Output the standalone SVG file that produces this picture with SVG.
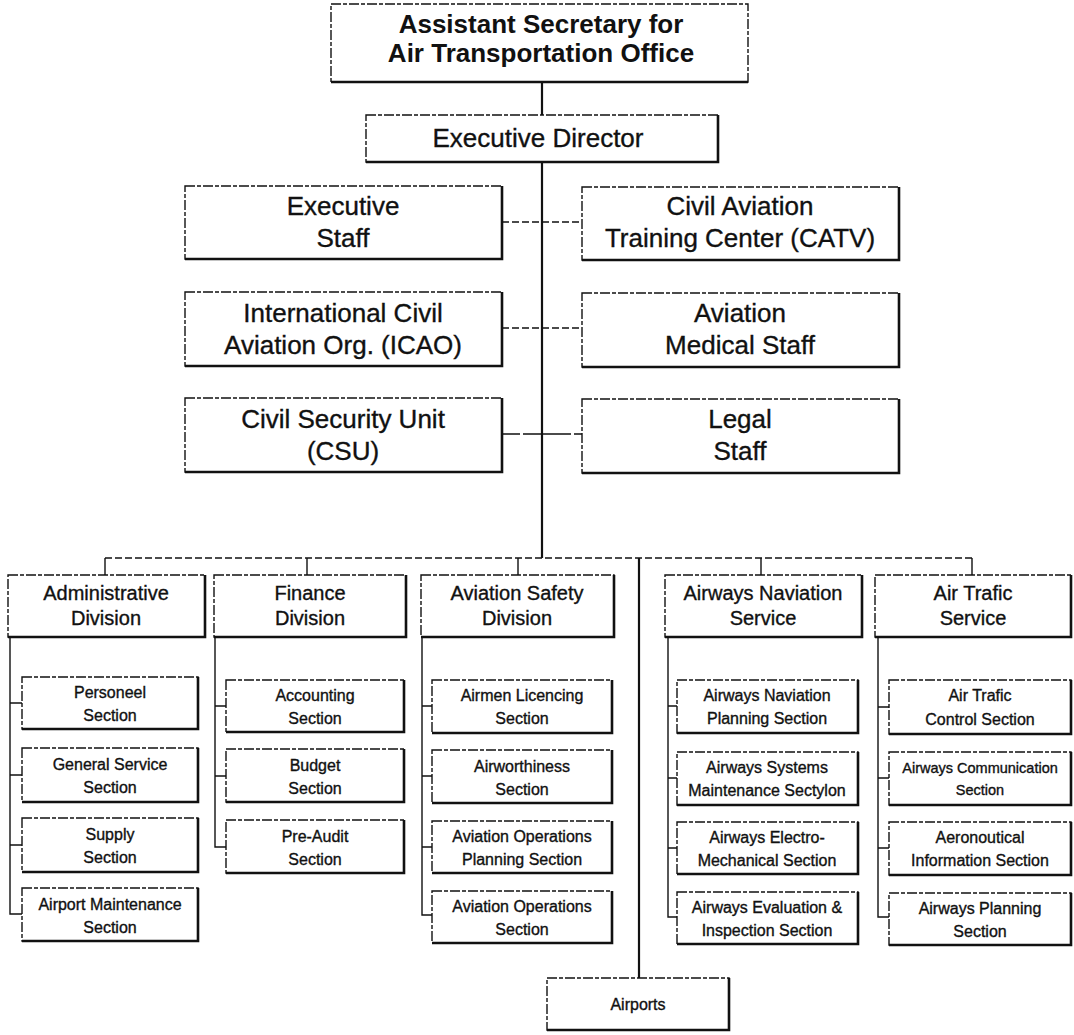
<svg xmlns="http://www.w3.org/2000/svg" width="1074" height="1035" viewBox="0 0 1074 1035">
  <style>
    .frame { fill: #fff; stroke: #111; stroke-width: 1.4; stroke-dasharray: 10 2 4 2; }
    .shade { fill: none; stroke: #111; stroke-width: 2.6; }
    .t { font-family: "Liberation Sans", Arial, sans-serif; fill: #111; stroke: #111; stroke-width: 0.35; text-anchor: middle; }
    .top { font-size: 26px; font-weight: bold; stroke-width: 0; }
    .dir { font-size: 26px; }
    .staff { font-size: 26px; }
    .div { font-size: 20px; }
    .sec { font-size: 16px; }
    .main { fill: none; stroke: #111; stroke-width: 2.2; }
    .link { fill: none; stroke: #111; stroke-width: 1.4; }
    .dash { fill: none; stroke: #111; stroke-width: 1.4; stroke-dasharray: 7 3; }
  </style>

  <!-- connectors -->
  <g id="connectors">
    <path class="main" d="M542 82 V115 M542 162 V558"/>
    <path class="dash" d="M502 222 H582 M502 328 H582"/>
    <path class="link" d="M502 434 H582" stroke-dasharray="18 3 30 0"/>
    <path class="dash" d="M105 558 H972"/>
    <path class="link" d="M105 558 V575 M307 558 V575 M518 558 V575 M761 558 V575 M972 558 V575"/>
    <path class="main" d="M639 558 V978"/>
    <!-- Administrative spine -->
    <path class="link" d="M10 637 V914 H22 M10 703 H22 M10 775 H22 M10 845 H22"/>
    <!-- Finance spine -->
    <path class="link" d="M215 637 V847 H226 M215 706 H226 M215 776 H226"/>
    <!-- Aviation Safety spine -->
    <path class="link" d="M422 637 V915 H432 M422 706 H432 M422 776 H432 M422 847 H432"/>
    <!-- Airways Naviation spine -->
    <path class="link" d="M668 637 V917 H677 M668 706 H677 M668 778 H677 M668 848 H677"/>
    <!-- Air Trafic spine -->
    <path class="link" d="M878 637 V917 H889 M878 707 H889 M878 778 H889 M878 848 H889"/>
  </g>

  <!-- top -->
  <g id="asst-secretary">
    <rect class="frame" x="331" y="4" width="417" height="78"/>
    <path class="shade" d="M331 82 H748"/>
    <text class="t top" x="541" y="33">Assistant Secretary for</text>
    <text class="t top" x="541" y="62">Air Transportation Office</text>
  </g>

  <g id="executive-director">
    <rect class="frame" x="366" y="115" width="352" height="47"/>
    <path class="shade" d="M366 162 H718 V115"/>
    <text class="t dir" x="538" y="147">Executive Director</text>
  </g>

  <!-- staff units -->
  <g id="executive-staff">
    <rect class="frame" x="185" y="186" width="317" height="73"/>
    <path class="shade" d="M185 259 H502 V186"/>
    <text class="t staff" x="343" y="215">Executive</text>
    <text class="t staff" x="343" y="247">Staff</text>
  </g>
  <g id="catv">
    <rect class="frame" x="582" y="187" width="317" height="73"/>
    <path class="shade" d="M582 260 H899 V187"/>
    <text class="t staff" x="740" y="215">Civil Aviation</text>
    <text class="t staff" x="740" y="247">Training Center (CATV)</text>
  </g>
  <g id="icao">
    <rect class="frame" x="185" y="292" width="317" height="74"/>
    <path class="shade" d="M185 366 H502 V292"/>
    <text class="t staff" x="343" y="322">International Civil</text>
    <text class="t staff" x="343" y="354">Aviation Org. (ICAO)</text>
  </g>
  <g id="medical-staff">
    <rect class="frame" x="582" y="293" width="317" height="74"/>
    <path class="shade" d="M582 367 H899 V293"/>
    <text class="t staff" x="740" y="322">Aviation</text>
    <text class="t staff" x="740" y="354">Medical Staff</text>
  </g>
  <g id="csu">
    <rect class="frame" x="185" y="398" width="317" height="74"/>
    <path class="shade" d="M185 472 H502 V398"/>
    <text class="t staff" x="343" y="428">Civil Security Unit</text>
    <text class="t staff" x="343" y="460">(CSU)</text>
  </g>
  <g id="legal-staff">
    <rect class="frame" x="582" y="399" width="317" height="74"/>
    <path class="shade" d="M582 473 H899 V399"/>
    <text class="t staff" x="740" y="428">Legal</text>
    <text class="t staff" x="740" y="460">Staff</text>
  </g>

  <!-- divisions -->
  <g id="admin-division">
    <rect class="frame" x="8" y="575" width="197" height="62"/>
    <path class="shade" d="M8 637 H205 V575"/>
    <text class="t div" x="106" y="600">Administrative</text>
    <text class="t div" x="106" y="625">Division</text>
  </g>
  <g id="finance-division">
    <rect class="frame" x="214" y="575" width="192" height="62"/>
    <path class="shade" d="M214 637 H406 V575"/>
    <text class="t div" x="310" y="600">Finance</text>
    <text class="t div" x="310" y="625">Division</text>
  </g>
  <g id="safety-division">
    <rect class="frame" x="421" y="575" width="193" height="62"/>
    <path class="shade" d="M421 637 H614 V575"/>
    <text class="t div" x="517" y="600">Aviation Safety</text>
    <text class="t div" x="517" y="625">Division</text>
  </g>
  <g id="airways-navigation">
    <rect class="frame" x="665" y="575" width="197" height="62"/>
    <path class="shade" d="M665 637 H862 V575"/>
    <text class="t div" x="763" y="600">Airways Naviation</text>
    <text class="t div" x="763" y="625">Service</text>
  </g>
  <g id="air-traffic">
    <rect class="frame" x="875" y="575" width="196" height="62"/>
    <path class="shade" d="M875 637 H1071 V575"/>
    <text class="t div" x="973" y="600">Air Trafic</text>
    <text class="t div" x="973" y="625">Service</text>
  </g>

  <!-- Administrative sections -->
  <g id="personeel">
    <rect class="frame" x="22" y="677" width="176" height="52"/>
    <path class="shade" d="M22 729 H198 V677"/>
    <text class="t sec" x="110" y="698">Personeel</text>
    <text class="t sec" x="110" y="721">Section</text>
  </g>
  <g id="general-service">
    <rect class="frame" x="22" y="748" width="176" height="54"/>
    <path class="shade" d="M22 802 H198 V748"/>
    <text class="t sec" x="110" y="770">General Service</text>
    <text class="t sec" x="110" y="793">Section</text>
  </g>
  <g id="supply">
    <rect class="frame" x="22" y="818" width="176" height="54"/>
    <path class="shade" d="M22 872 H198 V818"/>
    <text class="t sec" x="110" y="840">Supply</text>
    <text class="t sec" x="110" y="863">Section</text>
  </g>
  <g id="airport-maintenance">
    <rect class="frame" x="22" y="888" width="176" height="53"/>
    <path class="shade" d="M22 941 H198 V888"/>
    <text class="t sec" x="110" y="910">Airport Maintenance</text>
    <text class="t sec" x="110" y="933">Section</text>
  </g>

  <!-- Finance sections -->
  <g id="accounting">
    <rect class="frame" x="226" y="680" width="178" height="52"/>
    <path class="shade" d="M226 732 H404 V680"/>
    <text class="t sec" x="315" y="701">Accounting</text>
    <text class="t sec" x="315" y="724">Section</text>
  </g>
  <g id="budget">
    <rect class="frame" x="226" y="749" width="178" height="53"/>
    <path class="shade" d="M226 802 H404 V749"/>
    <text class="t sec" x="315" y="771">Budget</text>
    <text class="t sec" x="315" y="794">Section</text>
  </g>
  <g id="pre-audit">
    <rect class="frame" x="226" y="820" width="178" height="53"/>
    <path class="shade" d="M226 873 H404 V820"/>
    <text class="t sec" x="315" y="842">Pre-Audit</text>
    <text class="t sec" x="315" y="865">Section</text>
  </g>

  <!-- Aviation Safety sections -->
  <g id="airmen-licencing">
    <rect class="frame" x="432" y="680" width="180" height="53"/>
    <path class="shade" d="M432 733 H612 V680"/>
    <text class="t sec" x="522" y="701">Airmen Licencing</text>
    <text class="t sec" x="522" y="724">Section</text>
  </g>
  <g id="airworthiness">
    <rect class="frame" x="432" y="750" width="180" height="53"/>
    <path class="shade" d="M432 803 H612 V750"/>
    <text class="t sec" x="522" y="772">Airworthiness</text>
    <text class="t sec" x="522" y="795">Section</text>
  </g>
  <g id="ops-planning">
    <rect class="frame" x="432" y="821" width="180" height="52"/>
    <path class="shade" d="M432 873 H612 V821"/>
    <text class="t sec" x="522" y="842">Aviation Operations</text>
    <text class="t sec" x="522" y="865">Planning Section</text>
  </g>
  <g id="ops-section">
    <rect class="frame" x="432" y="891" width="180" height="52"/>
    <path class="shade" d="M432 943 H612 V891"/>
    <text class="t sec" x="522" y="912">Aviation Operations</text>
    <text class="t sec" x="522" y="935">Section</text>
  </g>

  <!-- Airways Naviation sections -->
  <g id="nav-planning">
    <rect class="frame" x="677" y="680" width="181" height="53"/>
    <path class="shade" d="M677 733 H858 V680"/>
    <text class="t sec" x="767" y="701">Airways Naviation</text>
    <text class="t sec" x="767" y="724">Planning Section</text>
  </g>
  <g id="systems-maintenance">
    <rect class="frame" x="677" y="752" width="181" height="53"/>
    <path class="shade" d="M677 805 H858 V752"/>
    <text class="t sec" x="767" y="773">Airways Systems</text>
    <text class="t sec" x="767" y="796">Maintenance Sectylon</text>
  </g>
  <g id="electro-mechanical">
    <rect class="frame" x="677" y="822" width="181" height="52"/>
    <path class="shade" d="M677 874 H858 V822"/>
    <text class="t sec" x="767" y="843">Airways Electro-</text>
    <text class="t sec" x="767" y="866">Mechanical Section</text>
  </g>
  <g id="evaluation-inspection">
    <rect class="frame" x="677" y="892" width="181" height="52"/>
    <path class="shade" d="M677 944 H858 V892"/>
    <text class="t sec" x="767" y="913">Airways Evaluation &amp;</text>
    <text class="t sec" x="767" y="936">Inspection Section</text>
  </g>

  <!-- Air Trafic sections -->
  <g id="traffic-control">
    <rect class="frame" x="889" y="680" width="182" height="54"/>
    <path class="shade" d="M889 734 H1071 V680"/>
    <text class="t sec" x="980" y="701">Air Trafic</text>
    <text class="t sec" x="980" y="725">Control Section</text>
  </g>
  <g id="communication">
    <rect class="frame" x="889" y="752" width="182" height="53"/>
    <path class="shade" d="M889 805 H1071 V752"/>
    <text class="t sec" x="980" y="773" style="font-size:14.5px">Airways Communication</text>
    <text class="t sec" x="980" y="795" style="font-size:14.5px">Section</text>
  </g>
  <g id="aeronautical-info">
    <rect class="frame" x="889" y="822" width="182" height="53"/>
    <path class="shade" d="M889 875 H1071 V822"/>
    <text class="t sec" x="980" y="843">Aeronoutical</text>
    <text class="t sec" x="980" y="866">Information Section</text>
  </g>
  <g id="airways-planning">
    <rect class="frame" x="889" y="893" width="182" height="52"/>
    <path class="shade" d="M889 945 H1071 V893"/>
    <text class="t sec" x="980" y="914">Airways Planning</text>
    <text class="t sec" x="980" y="937">Section</text>
  </g>

  <!-- airports -->
  <g id="airports">
    <rect class="frame" x="547" y="978" width="182" height="52"/>
    <path class="shade" d="M547 1030 H729 V978"/>
    <text class="t sec" x="638" y="1010">Airports</text>
  </g>
</svg>
